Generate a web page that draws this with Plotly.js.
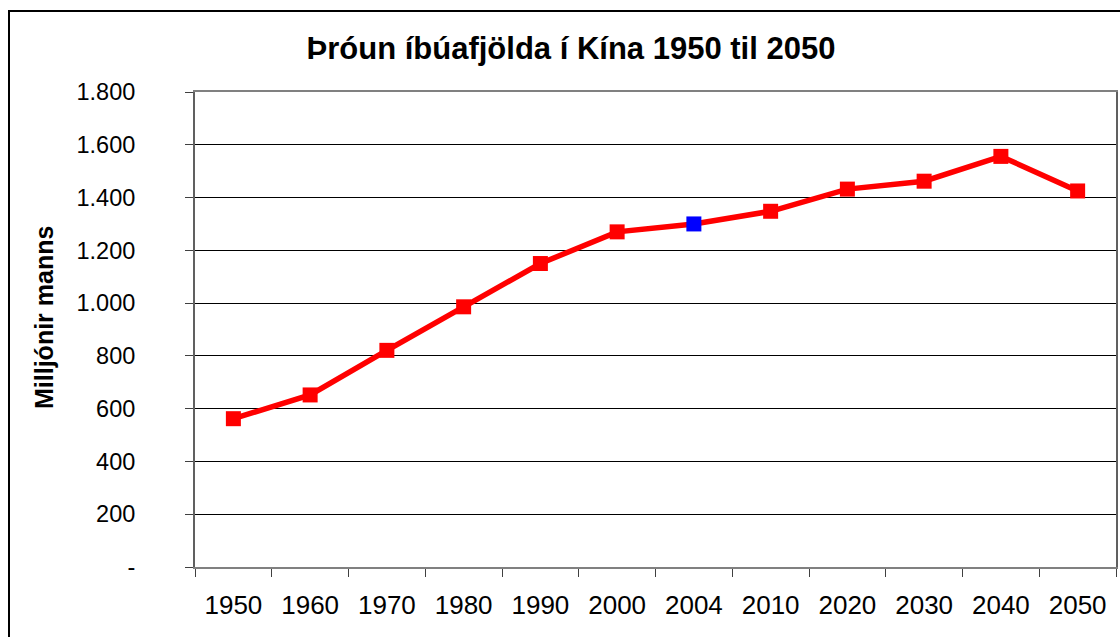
<!DOCTYPE html>
<html>
<head>
<meta charset="utf-8">
<script src="https://cdn.plot.ly/plotly-3.0.1.min.js"></script>
<style>
  html, body { margin: 0; padding: 0; background: #fff; overflow: hidden; }
  #wrap { position: relative; width: 1120px; height: 637px; }
  #chart { width: 1120px; height: 637px; }
  #frame { position: absolute; left: 8px; top: 10px; width: 1120px; height: 640px;
           border: 2px solid #000; pointer-events: none; box-sizing: border-box; }
</style>
</head>
<body>
<div id="wrap">
  <div id="chart"></div>
  <div id="frame"></div>
</div>
<script>
// Data
const years = ['1950','1960','1970','1980','1990','2000','2004','2010','2020','2030','2040','2050'];
const population = [562, 652, 821, 986, 1150, 1270, 1300, 1348, 1432, 1462, 1556, 1425];
const yTickVals = [0, 200, 400, 600, 800, 1000, 1200, 1400, 1600, 1800];
const yTickText = ['-', '200', '400', '600', '800', '1.000', '1.200', '1.400', '1.600', '1.800'];
const titleText = 'Þróun íbúafjölda í Kína 1950 til 2050';
const yTitleText = 'Milljónir manns';
const highlightYear = '2004';

const RED = '#FF0000', BLUE = '#0000FF';
const markerColors = years.map(y => y === highlightYear ? BLUE : RED);
const FONT = '"Liberation Sans", Arial, sans-serif';

const trace = {
  x: years,
  y: population,
  type: 'scatter',
  mode: 'lines+markers',
  line: { color: RED, width: 5.5 },
  marker: { symbol: 'square', size: 15, color: markerColors, line: { width: 0 } },
  hoverinfo: 'x+y'
};

const layout = {
  width: 1120,
  height: 637,
  paper_bgcolor: '#ffffff',
  plot_bgcolor: '#ffffff',
  margin: { l: 195, r: 4, t: 92, b: 70 },
  showlegend: false,
  font: { family: FONT, color: '#000' },
  title: {
    text: '<b>' + titleText + '</b>',
    font: { family: FONT, size: 31, color: '#000' },
    xref: 'container', yref: 'container',
    x: 571 / 1120, y: 1 - 48 / 637, xanchor: 'center', yanchor: 'middle'
  },
  annotations: [{
    text: '<b>' + yTitleText + '</b>',
    xref: 'paper', yref: 'paper',
    x: (44 - 195) / 921, y: (567 - 318) / 475,
    xanchor: 'center', yanchor: 'middle',
    textangle: -90,
    showarrow: false,
    font: { family: FONT, size: 25, color: '#000' }
  }],
  xaxis: {
    type: 'category',
    range: [-0.5, years.length - 0.5],
    showgrid: false,
    zeroline: false,
    showline: true,
    linecolor: '#808080',
    linewidth: 2,
    mirror: true,
    ticks: 'outside',
    tickson: 'boundaries',
    ticklen: 8,
    tickcolor: '#404040',
    tickwidth: 1,
    ticklabelstandoff: 14,
    tickfont: { family: FONT, size: 26, color: '#000' },
    fixedrange: true
  },
  yaxis: {
    range: [0, 1800],
    tickmode: 'array',
    tickvals: yTickVals,
    ticktext: yTickText,
    showgrid: true,
    gridcolor: '#000000',
    gridwidth: 1,
    zeroline: false,
    showline: true,
    linecolor: '#606060',
    linewidth: 2,
    mirror: true,
    ticks: 'outside',
    ticklen: 8,
    tickcolor: '#404040',
    tickwidth: 1,
    ticklabelstandoff: 45,
    tickfont: { family: FONT, size: 23.5, color: '#000' },
    fixedrange: true
  }
};

Plotly.newPlot('chart', [trace], layout, { displayModeBar: false, staticPlot: true });
</script>
</body>
</html>
